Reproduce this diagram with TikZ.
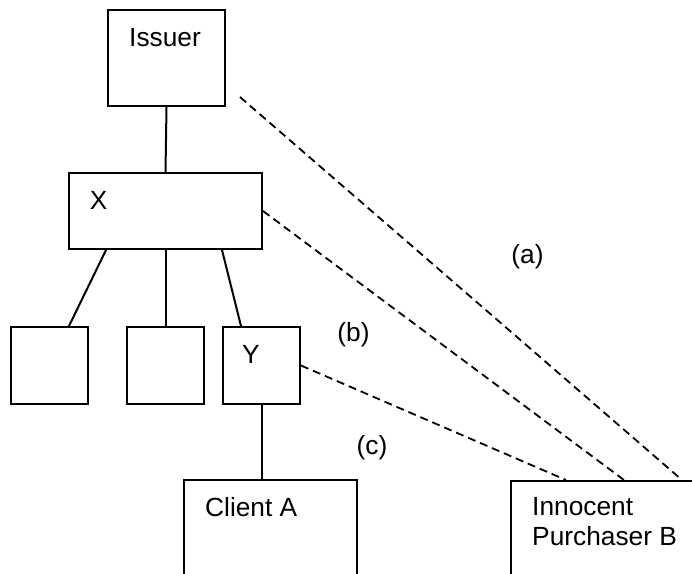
\documentclass[tikz,border=0pt]{standalone}
\usepackage{fontspec}
\setmainfont{Liberation Sans}
\begin{document}
\begin{tikzpicture}[x=1pt,y=-1pt,
  box/.style={draw,line width=2pt,rectangle,inner sep=0pt,minimum width=#1},
  conn/.style={line width=2pt},
  rel/.style={line width=1.8pt,dash pattern=on 8pt off 5pt},
  txt/.style={font=\fontsize{26.3}{30}\selectfont,inner sep=0pt,anchor=base}]
\useasboundingbox (0,0) rectangle (692,573);
\clip (0,0) rectangle (692,573);
% boxes
\node[box=117pt,minimum height=96pt] (issuer) at (166.5,58) {};
\node[box=193pt,minimum height=76pt] (X) at (165.5,211) {};
\node[box=77pt,minimum height=77pt] (b1) at (49.5,365.5) {};
\node[box=77pt,minimum height=77pt] (b2) at (165.5,365.5) {};
\node[box=77pt,minimum height=77pt] (Y) at (261.5,365.5) {};
\node[box=173pt,minimum height=140pt] (client) at (270.5,550) {};
\node[box=200pt,minimum height=140pt] (B) at (611,551) {};
% texts
\node[txt] (tissuer) at (165,46) {Issuer};
\node[txt] (tx) at (98.7,209) {X};
\node[txt] (ty) at (251,363) {Y};
\node[txt,anchor=base west] (tclient) at (205,516) {Client A};
\node[txt,anchor=base west] (tb1) at (532,515) {Innocent};
\node[txt,anchor=base west] (tb2) at (532,545) {Purchaser B};
\node[txt] (la) at (527.5,263.5) {(a)};
\node[txt] (lb) at (353.5,341.5) {(b)};
\node[txt] (lc) at (372,454.5) {(c)};
% solid connectors
\draw[conn] (issuer.south) -- (X.north);
\draw[conn] ([xshift=38pt]X.south west) -- ([xshift=59pt]b1.north west);
\draw[conn] (X.south) -- (b2.north);
\draw[conn] ([xshift=154pt]X.south west) -- ([xshift=19pt]Y.north west);
\draw[conn] (Y.south) -- (Y.south |- client.north);
% dashed connectors
\coordinate (astart) at (240,97);
\draw[rel] (astart) -- ([xshift=172pt]B.north west);
\draw[rel] (X.east) -- ([xshift=114pt]B.north west);
\draw[rel] (Y.east) -- ([xshift=56pt]B.north west);
\end{tikzpicture}
\end{document}
